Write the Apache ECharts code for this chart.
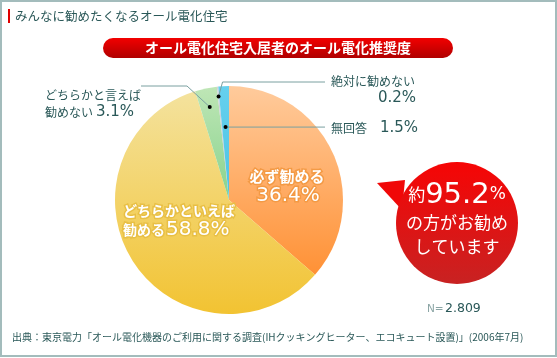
<!DOCTYPE html>
<html><head><meta charset="utf-8">
<script src="https://cdn.jsdelivr.net/npm/echarts@6/dist/echarts.min.js"></script>
<style>html,body{margin:0;padding:0;background:#fff}#c{width:557px;height:358px}</style>
</head><body><div id="c"></div>
<script>
var categories = ['必ず勧める', 'どちらかといえば勧める', 'どちらかと言えば勧めない', '絶対に勧めない', '無回答'];
var values = [36.4, 58.8, 3.1, 0.2, 1.5];
var titleText = 'みんなに勧めたくなるオール電化住宅';
var bannerText = 'オール電化住宅入居者のオール電化推奨度';
var sampleText = '2.809';
var sourceText = '出典：東京電力「オール電化機器のご利用に関する調査(IHクッキングヒーター、エコキュート設置)」(2006年7月)';

var JP = '"Noto Sans CJK JP", sans-serif';
var NUM = '"DejaVu Sans", "Noto Sans CJK JP", sans-serif';
var TEAL = '#2a5858';
var CX = 229, CY = 200, R = 114;

function grad(c1, c2) {
  return new echarts.graphic.LinearGradient(0, CY - R, 0, CY + R, [{offset: 0, color: c1}, {offset: 1, color: c2}], true);
}
var colors = [
  grad('#ffcb9c', '#ff8520'),
  grad('#f4e3a0', '#f2c332'),
  grad('#bfe6b6', '#4fbf64'),
  grad('#d0d0dc', '#b8b8c8'),
  grad('#66d0ee', '#2fb6d8')
];

// anchor point on a slice (mid-angle, clockwise from 12 o'clock) at radius r
function anchor(i, r) {
  var total = values.reduce(function (a, b) { return a + b; }, 0);
  var before = 0;
  for (var k = 0; k < i; k++) before += values[k];
  var a = (before + values[i] / 2) / total * 2 * Math.PI;
  return [CX + r * Math.sin(a), CY - r * Math.cos(a)];
}
var pG = anchor(2, 95), pW = anchor(3, 104), pB = anchor(4, 73);

var chart = echarts.init(document.getElementById('c'), null, {renderer: 'canvas'});
function pct(v) { return v.toFixed(1) + '%'; }
var LINE = '#7aa0a0';

var graphics = [
  {type: 'rect', shape: {x: 1, y: 1, width: 555, height: 355}, style: {fill: 'none', stroke: '#a3bcbc', lineWidth: 2}, silent: true},
  {type: 'rect', shape: {x: 8, y: 9, width: 2, height: 14}, style: {fill: '#e00000'}},
  {type: 'text', x: 15, y: 16, style: {text: titleText, font: '12.5px ' + JP, fill: TEAL, textVerticalAlign: 'middle'}},
  {type: 'rect', shape: {x: 103, y: 38, width: 350, height: 20, r: 10},
   style: {fill: new echarts.graphic.LinearGradient(0, 0, 0, 1, [{offset: 0, color: '#f20000'}, {offset: 1, color: '#b00000'}])}},
  {type: 'text', x: 278, y: 48, style: {text: bannerText, font: 'bold 14px ' + JP, fill: '#fff', textAlign: 'center', textVerticalAlign: 'middle'}},
  // leader lines
  {type: 'polyline', z: 5, shape: {points: [[141, 86], [187, 86], pG]}, style: {stroke: LINE, lineWidth: 1, fill: 'none'}},
  {type: 'circle', z: 5, shape: {cx: pG[0], cy: pG[1], r: 2}, style: {fill: '#000'}},
  {type: 'polyline', z: 5, shape: {points: [pW, [pW[0] + 4, 82], [325, 82]]}, style: {stroke: LINE, lineWidth: 1, fill: 'none'}},
  {type: 'circle', z: 5, shape: {cx: pW[0], cy: pW[1], r: 2}, style: {fill: '#000'}},
  {type: 'polyline', z: 5, shape: {points: [pB, [325, pB[1]]]}, style: {stroke: LINE, lineWidth: 1, fill: 'none'}},
  {type: 'circle', z: 5, shape: {cx: pB[0], cy: pB[1], r: 2}, style: {fill: '#000'}},
  // outside labels
  {type: 'text', x: 45, y: 95, style: {text: 'どちらかと言えば', font: '12px ' + JP, fill: TEAL, textVerticalAlign: 'middle'}},
  {type: 'text', x: 45, y: 112, style: {text: '勧めない', font: '12px ' + JP, fill: TEAL, textVerticalAlign: 'middle'}},
  {type: 'text', x: 96, y: 112, style: {text: pct(values[2]), font: '15px ' + NUM, fill: TEAL, textVerticalAlign: 'middle'}},
  {type: 'text', x: 331, y: 81, style: {text: '絶対に勧めない', font: '12px ' + JP, fill: TEAL, textVerticalAlign: 'middle'}},
  {type: 'text', x: 378, y: 98, style: {text: pct(values[3]), font: '15px ' + NUM, fill: TEAL, textVerticalAlign: 'middle'}},
  {type: 'text', x: 331, y: 128, style: {text: '無回答', font: '12px ' + JP, fill: TEAL, textVerticalAlign: 'middle'}},
  {type: 'text', x: 380, y: 128, style: {text: pct(values[4]), font: '15px ' + NUM, fill: TEAL, textVerticalAlign: 'middle'}},
  // inner labels
  {type: 'text', x: 287, y: 176, z: 10, style: {text: '必ず勧める', font: 'bold 15px ' + JP, fill: '#fff', stroke: '#f39a45', lineWidth: 3, textAlign: 'center', textVerticalAlign: 'middle'}},
  {type: 'text', x: 288, y: 196, z: 10, style: {text: pct(values[0]), font: '20px ' + NUM, fill: '#fff', stroke: '#f39a45', lineWidth: 3, textAlign: 'center', textVerticalAlign: 'middle'}},
  {type: 'text', x: 123, y: 211, z: 10, style: {text: 'どちらかといえば', font: 'bold 14px ' + JP, fill: '#fff', stroke: '#e8bf45', lineWidth: 3, textVerticalAlign: 'middle'}},
  {type: 'text', x: 123, y: 230, z: 10, style: {text: '勧める', font: 'bold 14px ' + JP, fill: '#fff', stroke: '#e8bf45', lineWidth: 3, textVerticalAlign: 'middle'}},
  {type: 'text', x: 166, y: 230, z: 10, style: {text: pct(values[1]), font: '20px ' + NUM, fill: '#fff', stroke: '#e8bf45', lineWidth: 3, textVerticalAlign: 'middle'}},
  // bubble
  {type: 'polygon', shape: {points: [[377, 183], [405, 180], [402, 210]]}, style: {fill: '#f00808'}},
  {type: 'circle', shape: {cx: 457, cy: 223, r: 61},
   style: {fill: new echarts.graphic.LinearGradient(0, 0, 0, 1, [{offset: 0, color: '#f60505'}, {offset: 1, color: '#c82222'}])}},
  {type: 'text', x: 457, y: 195, z: 10, style: {
    text: '{a|約}{b|' + (values[0] + values[1]).toFixed(1) + '}{c|%}', textAlign: 'center', textVerticalAlign: 'middle', fill: '#fff',
    rich: {a: {fontSize: 17, fontFamily: JP, fill: '#fff'},
           b: {fontSize: 29, fontFamily: NUM, fill: '#fff'},
           c: {fontSize: 17, fontFamily: NUM, fill: '#fff'}}}},
  {type: 'text', x: 457, y: 223, z: 10, style: {text: 'の方がお勧め', font: '17px ' + JP, fill: '#fff', textAlign: 'center', textVerticalAlign: 'middle'}},
  {type: 'text', x: 457, y: 247, z: 10, style: {text: 'しています', font: '17px ' + JP, fill: '#fff', textAlign: 'center', textVerticalAlign: 'middle'}},
  // N and source
  {type: 'text', x: 427, y: 309, style: {text: 'N=', font: '10.5px ' + NUM, fill: '#8aa4a4', textVerticalAlign: 'middle'}},
  {type: 'text', x: 445, y: 309, style: {text: sampleText, font: '12.5px ' + NUM, fill: TEAL, textVerticalAlign: 'middle'}},
  {type: 'text', x: 12, y: 337, style: {text: sourceText, font: '10px ' + JP, fill: TEAL, textVerticalAlign: 'middle'}}
];

chart.setOption({
  animation: false,
  backgroundColor: '#fff',
  series: [{
    type: 'pie',
    center: [CX, CY],
    radius: [0, R],
    startAngle: 90,
    clockwise: true,
    label: {show: false},
    labelLine: {show: false},
    silent: true,
    data: categories.map(function (c, i) { return {name: c, value: values[i], itemStyle: {color: colors[i]}}; })
  }],
  graphic: graphics
});
</script></body></html>
